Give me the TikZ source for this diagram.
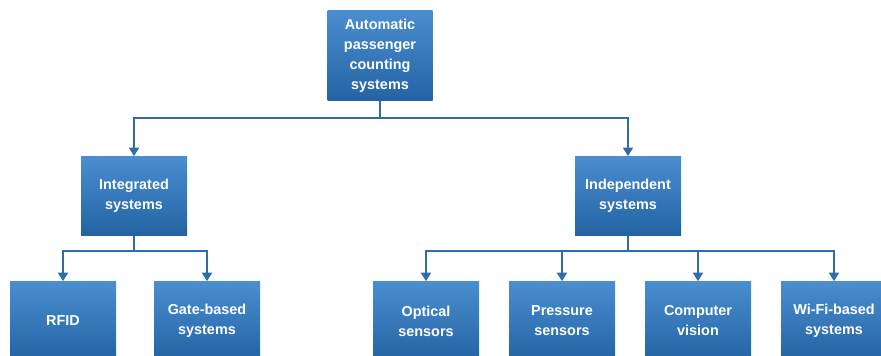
\documentclass[tikz,border=0pt]{standalone}
\usepackage{fontspec}
\setmainfont{Liberation Sans}
\usetikzlibrary{arrows.meta}
\definecolor{boxtop}{HTML}{4A8ED0}
\definecolor{boxbot}{HTML}{2363A3}
\definecolor{linec}{HTML}{2F6DA8}
\tikzset{
  box/.style={rectangle, top color=boxtop, bottom color=boxbot, draw=none,
    minimum width=79.5pt, minimum height=59.25pt, inner sep=0pt,
    text=white, align=center, font=\fontsize{10.8}{15}\selectfont\bfseries},
  conn/.style={draw=linec, line width=1.4pt,
    -{Triangle[width=7.5pt,length=6.5pt]}},
  plain/.style={draw=linec, line width=1.4pt}
}
\begin{document}
\begin{tikzpicture}[x=0.75pt,y=-0.75pt]
\useasboundingbox (0,0) rectangle (881,356);
\clip (0,0) rectangle (881,356);
\fill[white] (0,0) rectangle (881,356);
\node[box, minimum height=67.5pt, minimum width=78.75pt] (top) at (380,56) {Automatic\\passenger\\counting\\systems};
\node[box] (integ) at (134,196) {Integrated\\systems};
\node[box] (indep) at (628,196) {Independent\\systems};
\node[box] (rfid) at (63,321) {RFID};
\node[box] (gate) at (207,321) {Gate-based\\systems};
\node[box] (opt) at (426,321) {Optical\\sensors};
\node[box] (pres) at (562,321) {Pressure\\sensors};
\node[box] (comp) at (698,321) {Computer\\vision};
\node[box] (wifi) at (834,321) {Wi-Fi-based\\systems};
\coordinate (j1) at (380,118);
\coordinate (j2) at (134,251);
\coordinate (j3) at (628,251);
\draw[plain] (top.south) -- (j1);
\draw[conn] (j1) -| (integ.north);
\draw[conn] (j1) -| (indep.north);
\draw[plain] (integ.south) -- (j2);
\draw[conn] (j2) -| (rfid.north);
\draw[conn] (j2) -| (gate.north);
\draw[plain] (indep.south) -- (j3);
\draw[conn] (j3) -| (opt.north);
\draw[conn] (j3) -| (pres.north);
\draw[conn] (j3) -| (comp.north);
\draw[conn] (j3) -| (wifi.north);
\end{tikzpicture}
\end{document}
